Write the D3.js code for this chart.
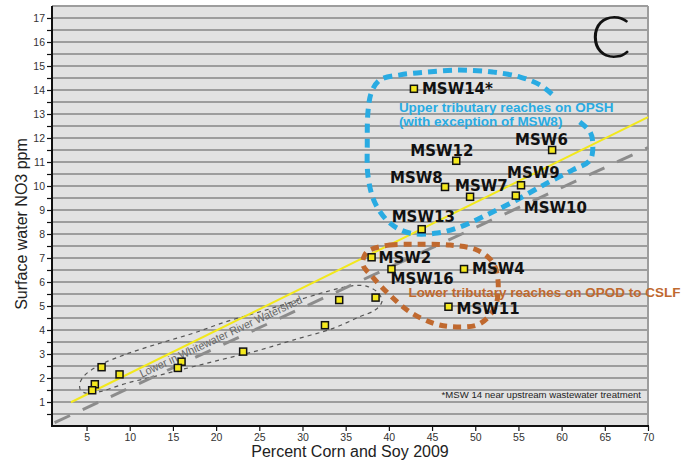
<!DOCTYPE html>
<html>
<head>
<meta charset="utf-8">
<script src="https://cdn.jsdelivr.net/npm/d3@7"></script>
<style>
	body { margin: 0; background: #fff; }
	svg { display: block; font-family: "Liberation Sans", Arial, sans-serif; }
</style>
</head>
<body>
<svg id="chart" width="683" height="463"></svg>
<script>
	// sampling sites: percent corn+soy vs NO3
	var siteNames = [ "MSW14*", "MSW6", "MSW12", "MSW8", "MSW7", "MSW9", "MSW10", "MSW13", "MSW2", "MSW16", "MSW4", "MSW11" ];
	var siteCorn = [ 42.9, 58.9, 47.8, 46.5, 49.4, 55.3, 54.7, 43.8, 38.0, 40.3, 48.7, 46.9 ];
	var siteNO3 = [ 14.05, 11.5, 11.05, 9.96, 9.55, 10.03, 9.6, 8.2, 7.03, 6.54, 6.54, 4.97 ];

	// unlabeled sites, lower Whitewater River watershed
	var lowerCorn = [ 6.74, 5.96, 5.65, 8.82, 16.0, 15.57, 23.13, 32.6, 34.25, 38.46 ];
	var lowerNO3 = [ 2.45, 1.74, 1.49, 2.15, 2.68, 2.42, 3.1, 4.2, 5.25, 5.35 ];

	// trend lines (end points)
	var yellowTrend = [ [ 3.2, 0.99 ], [ 70, 12.87 ] ];
	var grayTrend = [ [ 1.3, 0.14 ], [ 70, 11.6 ] ];

	// group outlines (data units)
	var upperOutline = [ [ 62.1, 12.67 ], [ 63.3, 12.25 ], [ 63.6, 11.79 ], [ 63.3, 11.08 ], [ 61.3, 10.67 ], [ 58.3, 10.12 ], [ 54.8, 9.42 ],
			[ 51.3, 8.79 ], [ 48.2, 8.29 ], [ 45.6, 8.04 ], [ 42.4, 8.04 ], [ 40.1, 8.46 ], [ 38.4, 9.29 ], [ 37.6, 10.37 ], [ 37.5, 11.79 ],
			[ 37.6, 13.17 ], [ 38.0, 13.92 ], [ 38.96, 14.42 ], [ 41.3, 14.63 ], [ 44.4, 14.75 ], [ 48.2, 14.83 ], [ 52.0, 14.75 ],
			[ 55.2, 14.54 ], [ 57.5, 14.21 ], [ 59.0, 13.79 ] ];
	var lowerTribOutline = [ [ 37.8, 7.33 ], [ 40.1, 7.54 ], [ 43.2, 7.57 ], [ 47.1, 7.54 ], [ 50.2, 7.33 ], [ 52.0, 6.83 ], [ 52.6, 6.17 ],
			[ 52.5, 5.18 ], [ 51.7, 4.62 ], [ 50.2, 4.21 ], [ 47.1, 4.14 ], [ 45.1, 4.29 ], [ 42.4, 4.76 ], [ 40.1, 5.46 ], [ 38.2, 6.17 ],
			[ 37.0, 6.71 ], [ 37.2, 7.12 ] ];
	var watershedOutline = [ [ 4.23, 1.78 ], [ 4.8, 2.12 ], [ 6.54, 2.54 ], [ 9.63, 3.0 ], [ 13.5, 3.45 ], [ 17.3, 3.86 ], [ 21.2, 4.35 ],
			[ 25.1, 4.76 ], [ 28.9, 5.18 ], [ 32.8, 5.6 ], [ 35.5, 5.83 ], [ 37.4, 5.83 ], [ 38.8, 5.53 ], [ 39.2, 5.18 ], [ 38.4, 4.83 ],
			[ 36.6, 4.55 ], [ 33.55, 4.07 ], [ 28.9, 3.58 ], [ 25.1, 3.17 ], [ 21.2, 2.82 ], [ 17.3, 2.47 ], [ 13.5, 2.12 ], [ 9.63, 1.78 ],
			[ 6.54, 1.43 ], [ 5.0, 1.36 ], [ 4.3, 1.5 ] ];

	var xTicks = [ 5, 10, 15, 20, 25, 30, 35, 40, 45, 50, 55, 60, 65, 70 ];
	var yTickLabels = [ 1, 2, 3, 4, 5, 6, 7, 8, 9, 10, 11, 12, 13, 14, 15, 16, 17 ];
	var yGrid = d3.range(0.5, 17.51, 0.5);

	// label placement relative to square (px)
	var labelOffsets = {
		"MSW14*" : [ 8, 5 ],
		"MSW6" : [ -37, -5 ],
		"MSW12" : [ -46, -5 ],
		"MSW8" : [ -55, -4 ],
		"MSW7" : [ -15, -6 ],
		"MSW9" : [ -14, -7 ],
		"MSW10" : [ 8, 17 ],
		"MSW13" : [ -30, -7 ],
		"MSW2" : [ 7, 6 ],
		"MSW16" : [ -1, 15 ],
		"MSW4" : [ 8, 5 ],
		"MSW11" : [ 8, 7 ]
	};

	var svg = d3.select("#chart");
	var x = d3.scaleLinear().domain([ 1, 70 ]).range([ 52, 648 ]);
	var y = d3.scaleLinear().domain([ 0, 17.5 ]).range([ 426, 6 ]);

	var line = d3.line().x(function(d) { return x(d[0]); }).y(function(d) { return y(d[1]); });

	// panel
	svg.append("rect")//
	.attr("x", x(1)).attr("y", y(17.5))//
	.attr("width", x(70) - x(1)).attr("height", y(0) - y(17.5))//
	.style("fill", "#e2e2e2");

	svg.append("g").selectAll("line").data(yGrid).enter().append("line")//
	.attr("x1", x(1)).attr("x2", x(70))//
	.attr("y1", function(d) { return y(d); })//
	.attr("y2", function(d) { return y(d); })//
	.style("stroke", "#9d9d9d")//
	.style("stroke-width", 2);

	svg.append("line")//
	.attr("x1", x(70)).attr("x2", x(70)).attr("y1", y(17.5)).attr("y2", y(0))//
	.style("stroke", "#9d9d9d").style("stroke-width", 2);

	// watershed outline
	svg.append("path").datum(watershedOutline)//
	.attr("d", line.curve(d3.curveCatmullRomClosed))//
	.style("fill", "none").style("stroke", "#555")//
	.style("stroke-width", 1.2).style("stroke-dasharray", "4,4");

	svg.append("text")//
	.attr("transform", "translate(" + x(20.55) + "," + y(3.73) + ") rotate(-25)")//
	.attr("text-anchor", "middle").attr("dy", "0.35em")//
	.attr("textLength", 178).attr("lengthAdjust", "spacingAndGlyphs")//
	.style("font-size", "11.5px").style("fill", "#666")//
	.text("Lower in Whitewater River Watershed");

	// trend lines
	svg.append("path").datum(grayTrend)//
	.attr("d", line.curve(d3.curveLinear))//
	.style("stroke", "#8c8c8c").style("stroke-width", 3)//
	.style("stroke-dasharray", "17,14").style("fill", "none");

	svg.append("path").datum(yellowTrend)//
	.attr("d", line.curve(d3.curveLinear))//
	.style("stroke", "#f2e81c").style("stroke-width", 2).style("fill", "none");

	// group outlines
	svg.append("path").datum(upperOutline)//
	.attr("d", line.curve(d3.curveCatmullRom))//
	.style("fill", "none").style("stroke", "#29abe2")//
	.style("stroke-width", 5).style("stroke-dasharray", "9,6");

	svg.append("path").datum(lowerTribOutline)//
	.attr("d", line.curve(d3.curveCatmullRomClosed))//
	.style("fill", "none").style("stroke", "#c0692f")//
	.style("stroke-width", 5).style("stroke-dasharray", "8,6");

	// axes
	var xAxis = d3.axisBottom(x).tickValues(xTicks).tickSize(5).tickPadding(3);
	var gx = svg.append("g").attr("transform", "translate(0," + y(0) + ")").call(xAxis);
	gx.select(".domain").attr("d", "M" + x(1) + ",0H" + (x(70) + 1)).style("stroke", "#111").style("stroke-width", 2);
	gx.selectAll(".tick line").style("stroke", "#111").style("stroke-width", 1.2);
	gx.selectAll(".tick text").style("font-size", "10.5px").style("fill", "#333")//
	.style("font-family", "'Liberation Sans', Arial, sans-serif");

	var yAxis = d3.axisLeft(y).tickValues(yGrid.filter(function(d) { return d <= 17; })).tickSize(5).tickPadding(2)//
	.tickFormat(function(d) { return yTickLabels.indexOf(d) >= 0 ? d : ""; });
	var gy = svg.append("g").attr("transform", "translate(" + x(1) + ",0)").call(yAxis);
	gy.select(".domain").attr("d", "M0," + y(17.5) + "V" + (y(0) + 1)).style("stroke", "#111").style("stroke-width", 2);
	gy.selectAll(".tick line").style("stroke", "#111").style("stroke-width", 1.2);
	gy.selectAll(".tick text").style("font-size", "10.5px").style("fill", "#333")//
	.style("font-family", "'Liberation Sans', Arial, sans-serif");

	// points
	var lowerData = lowerCorn.map(function(c, i) { return { corn : c, no3 : lowerNO3[i] }; });
	var siteData = siteNames.map(function(n, i) { return { name : n, corn : siteCorn[i], no3 : siteNO3[i] }; });

	svg.append("g").selectAll("rect").data(lowerData.concat(siteData)).enter().append("rect")//
	.attr("x", function(d) { return x(d.corn) - 3.5; })//
	.attr("y", function(d) { return y(d.no3) - 3.5; })//
	.attr("width", 7).attr("height", 7)//
	.style("fill", "#f4e81e").style("stroke", "#111").style("stroke-width", 1.5);

	svg.append("g").selectAll("text").data(siteData).enter().append("text")//
	.attr("x", function(d) { return x(d.corn) + labelOffsets[d.name][0]; })//
	.attr("y", function(d) { return y(d.no3) + labelOffsets[d.name][1]; })//
	.style("font-family", "'DejaVu Sans', sans-serif")//
	.style("font-weight", "bold").style("font-size", "15px").style("fill", "#111")//
	.text(function(d) { return d.name; });

	// group captions
	svg.append("text").attr("x", x(41.16)).attr("y", y(13.1))//
	.style("font-weight", "bold").style("font-size", "13.5px").style("fill", "#29abe2")//
	.text("Upper tributary reaches on OPSH");
	svg.append("text").attr("x", x(41.16)).attr("y", y(12.48))//
	.style("font-weight", "bold").style("font-size", "13.5px").style("fill", "#29abe2")//
	.text("(with exception of MSW8)");
	svg.append("text").attr("x", x(42.26)).attr("y", y(5.38))//
	.style("font-weight", "bold").style("font-size", "13px").style("fill", "#c0692f")//
	.attr("textLength", 272).attr("lengthAdjust", "spacingAndGlyphs")//
	.text("Lower tributary reaches on OPOD to CSLF");

	svg.append("text").attr("x", x(46.1)).attr("y", y(1.17))//
	.style("font-size", "9.6px").style("fill", "#222")//
	.text("*MSW 14 near upstream wastewater treatment");

	svg.append("text").attr("x", x(63.3)).attr("y", y(15.35))//
	.style("font-family", "Lato, 'Open Sans', sans-serif").style("font-weight", 300)//
	.style("font-size", "60px").style("fill", "#111")//
	.text("C");

	// axis titles
	svg.append("text").attr("x", 350).attr("y", 457)//
	.attr("text-anchor", "middle").style("font-size", "16px").style("fill", "#222")//
	.text("Percent Corn and Soy 2009");

	svg.append("text").attr("transform", "translate(27,224) rotate(-90)")//
	.attr("text-anchor", "middle").style("font-size", "16px").style("fill", "#222")//
	.text("Surface water NO3 ppm");
</script>
</body>
</html>
